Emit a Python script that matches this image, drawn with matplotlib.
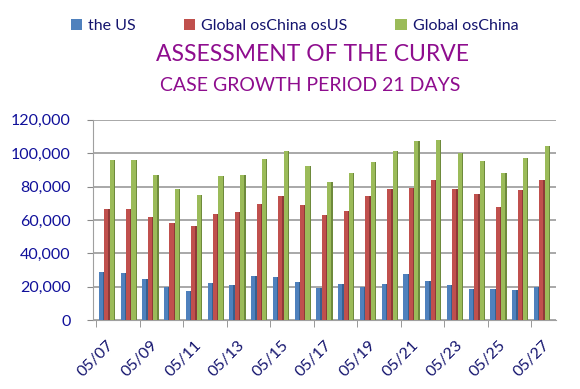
import matplotlib
matplotlib.use('Agg')

import matplotlib.pyplot as plt
import numpy as np

# dates 05/07 .. 05/27
days = ['05/%02d' % d for d in range(7, 28)]

the_us = [29000, 28400, 24400, 19600, 17400, 22000, 21000, 26400, 26000, 22800, 19200,
          21800, 19600, 21600, 27400, 23400, 20800, 18800, 18800, 18200, 20000]
global_ex_china_us = [66500, 66700, 61700, 58300, 56500, 63500, 65000, 69500, 74500, 68900, 62900,
                      65600, 74300, 78700, 79100, 84100, 78300, 75700, 67900, 78100, 83900]
global_ex_china = [96100, 95900, 87100, 78700, 74900, 86500, 87100, 96700, 101300, 92500, 82700,
                   88300, 94700, 101100, 107300, 108100, 99900, 95100, 87900, 97100, 104500]

series = [('the US', the_us, '#4F81BD', '#38608F'),
          ('Global osChina osUS', global_ex_china_us, '#C0504D', '#8E3A38'),
          ('Global osChina', global_ex_china, '#9BBB59', '#6E8A3C')]

plt.rcParams['font.family'] = ['Lato', 'DejaVu Sans']

fig = plt.figure(figsize=(5.8, 3.89), dpi=100)
ax = fig.add_axes([0.160, 0.177, 0.799, 0.515])

x = np.arange(len(days))
w = 0.25
for i, (name, vals, col, dark) in enumerate(series):
    pos = x + (i - 1) * w
    ax.bar(pos, vals, width=w, color=col, label=name, zorder=3)
    # darker side strip for a bit of depth
    ax.bar(pos + w * 0.38, vals, width=w * 0.24, color=dark, zorder=3)

ax.set_xlim(-0.65, len(days) - 0.35)
ax.set_ylim(0, 120000)
ax.set_yticks(np.arange(0, 120001, 20000))
ax.set_yticklabels(['{:,}'.format(v) for v in range(0, 120001, 20000)],
                   color='#10109A', fontsize=11.5)
ax.yaxis.grid(True, color='#9A9A9A', linewidth=1.2, zorder=0)

ax.set_xticks(x[::2])
ax.set_xticklabels(days[::2], rotation=45, ha='right', rotation_mode='anchor',
                   color='#14146E', fontsize=11.5)
ax.set_xticks(np.arange(-0.5, len(days), 2), minor=True)
ax.tick_params(axis='x', which='major', length=0, pad=13)
ax.tick_params(axis='x', which='minor', length=5, color='#888888')
ax.tick_params(axis='y', length=4, color='#888888', pad=12)

for s in ['top', 'right']:
    ax.spines[s].set_visible(False)
ax.spines['left'].set_color('#A0A0A0')
ax.spines['bottom'].set_color('#A0A0A0')

fig.text(0.538, 0.859, 'ASSESSMENT OF THE CURVE', ha='center', va='center',
         color='#8E0D8E', fontsize=16.5)
fig.text(0.535, 0.779, 'CASE GROWTH PERIOD 21 DAYS', ha='center', va='center',
         color='#8E0D8E', fontsize=14)

handles, labels = ax.get_legend_handles_labels()
fig.legend(handles[:3], labels[:3], loc='center', bbox_to_anchor=(0.508, 0.933), ncol=3,
           frameon=False, fontsize=11.5, handlelength=0.7, handleheight=0.7,
           handletextpad=0.4, columnspacing=3.0, labelcolor='#14146E')

fig.savefig('out.png', dpi=100)
